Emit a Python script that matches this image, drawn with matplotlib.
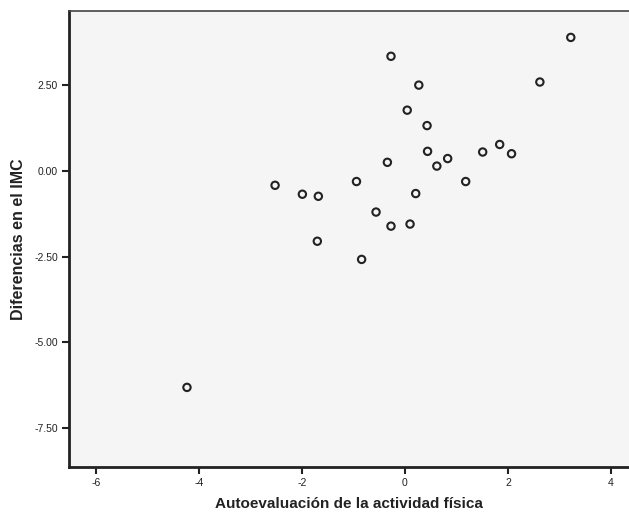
import matplotlib
matplotlib.use("Agg")
import matplotlib.pyplot as plt

x_vals = [3.22, -0.27, 0.27, 2.62, 0.045, 0.43, 0.44, 0.83, 0.62, 1.51, 1.84, 2.07,
          -0.34, -0.94, 1.18, 0.21, -1.99, -1.68, -0.56, -0.27, 0.10, -1.70, -0.84,
          -2.52, -4.23]
y_vals = [3.89, 3.34, 2.50, 2.59, 1.77, 1.32, 0.57, 0.36, 0.14, 0.55, 0.77, 0.50,
          0.25, -0.31, -0.31, -0.66, -0.68, -0.74, -1.20, -1.61, -1.55, -2.05, -2.58,
          -0.42, -6.31]
x_ticks = [-6, -4, -2, 0, 2, 4]
y_ticks = [2.5, 0.0, -2.5, -5.0, -7.5]
x_label = "Autoevaluación de la actividad física"
y_label = "Diferencias en el IMC"

plt.rcParams['font.family'] = ['Liberation Sans', 'DejaVu Sans']

fig = plt.figure(figsize=(6.29, 5.12), dpi=100)
ax = fig.add_axes([69/629, 1-467/512, 1-69/629, (467-11)/512])
ax.set_facecolor('#f5f5f5')
ax.scatter(x_vals, y_vals, s=28, facecolors='none', edgecolors='#222222', linewidths=1.5, zorder=3)
ax.set_xlim(-6.52, 4.35)
ax.set_ylim(-8.63, 4.66)
ax.set_xticks(x_ticks)
ax.set_xticklabels([str(t) for t in x_ticks])
ax.set_yticks(y_ticks)
ax.set_yticklabels([f"{t:.2f}" for t in y_ticks])
ax.tick_params(direction='out', length=5, width=1.5, color='#222222', labelsize=7.5, labelcolor='#222222', pad=3)
for s in ['left', 'bottom']:
    ax.spines[s].set_linewidth(2)
    ax.spines[s].set_color('#222222')
ax.spines['top'].set_linewidth(1.2)
ax.spines['top'].set_color('#444444')
ax.spines['right'].set_visible(False)
ax.set_xlabel(x_label, fontsize=11, fontweight='bold', color='#222222', labelpad=6.5)
ax.set_ylabel(y_label, fontsize=11.5, fontweight='bold', color='#222222', labelpad=6)
fig.savefig("out.png", dpi=100)
